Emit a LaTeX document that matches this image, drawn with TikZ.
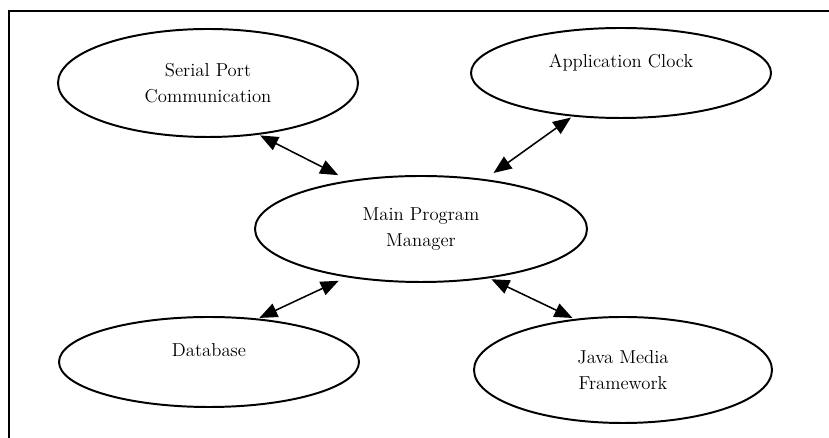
\documentclass[tikz,border=0pt]{standalone}
\usetikzlibrary{shapes,arrows.meta,calc}

\begin{document}
\begin{tikzpicture}[
    part/.style={ellipse, draw, line width=1.4pt, outer sep=0pt, align=center,
                 font=\fontsize{13.3}{19}\selectfont},
    oneline/.style={text height=0.4cm, text depth=0.65cm},
    link/.style={{Triangle[length=0.45cm,width=0.36cm]}-{Triangle[length=0.45cm,width=0.36cm]}, line width=1.1pt}
  ]
  % \draw[step=1.0,thin,gray!40] (0,0) grid (21,11);
  \useasboundingbox (0,0) rectangle (20.725,10.95);
  \clip (0,0) rectangle (20.725,10.95);
  \draw[line width=1.3pt] (0.225,-1) rectangle (22,10.675);

  \node[part, minimum width=7.5cm, minimum height=2.7cm] (serialNode) at (5.2,8.875) {Serial Port\\Communication};
  \node[part, oneline, minimum width=7.5cm, minimum height=2.25cm] (clockNode) at (15.525,9.125) {Application Clock};
  \node[part, minimum width=8.3cm, minimum height=2.65cm] (mainNode) at (10.525,5.225) {Main Program\\Manager};
  \node[part, oneline, minimum width=7.5cm, minimum height=2.25cm] (dbNode) at (5.225,1.9) {Database};
  \node[part, minimum width=7.45cm, minimum height=2.65cm] (javaNode) at (15.575,1.7) {Java Media\\Framework};

  \draw[link, shorten <=0.08cm, shorten >=0.33cm] (serialNode.-46.7) -- (mainNode.146.5);
  \draw[link, shorten <=0.08cm, shorten >=0.3cm] (clockNode.-138.6) -- (mainNode.38.8);
  \draw[link, shorten <=0.08cm, shorten >=0.25cm] (dbNode.42.6) -- (mainNode.-147.4);
  \draw[link, shorten <=0.1cm, shorten >=0.1cm] (javaNode.133.3) -- (mainNode.-36.5);
\end{tikzpicture}
\end{document}
